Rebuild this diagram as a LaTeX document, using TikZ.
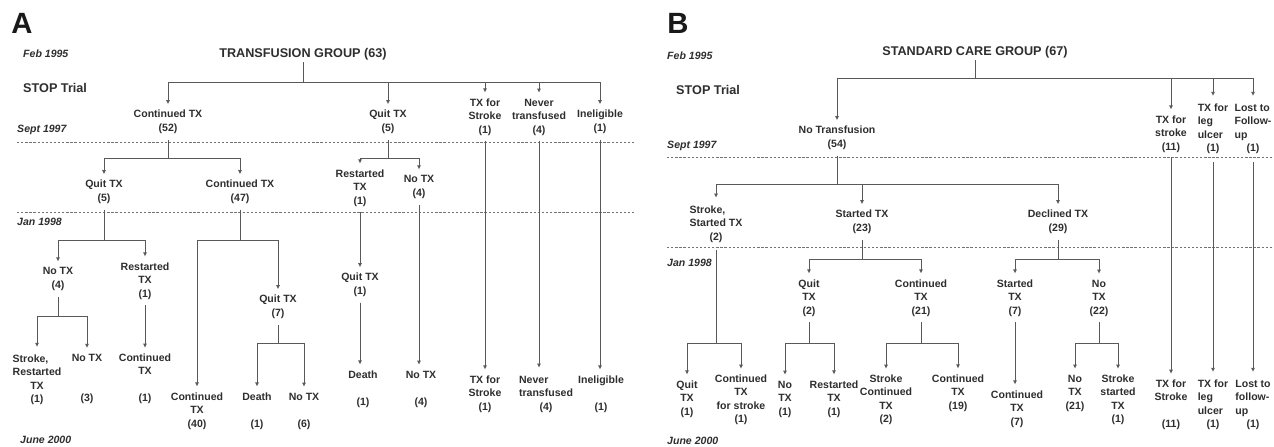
\documentclass[tikz,border=0pt]{standalone}
\usepackage{fontspec}
\setmainfont{Liberation Sans}
\usetikzlibrary{arrows.meta}
\definecolor{txt}{gray}{0.18}
\definecolor{ln}{gray}{0.35}
\definecolor{dsh}{gray}{0.45}
\newcommand{\cntrow}[1]{\multicolumn{1}{@{}c@{}}{#1}}

\begin{document}
\begin{tikzpicture}[x=0.3mm, y=-0.3mm,
  > = {Latex[length=3.5pt,width=3.5pt]},
  lab/.style = {font=\fontsize{9}{11.5}\selectfont\bfseries, text=txt, align=center, inner xsep=1pt, inner ysep=5pt},
  date/.style = {font=\fontsize{9}{11}\selectfont\bfseries\itshape, text=txt, anchor=west, inner sep=0pt},
  head/.style = {font=\fontsize{10.8}{13}\selectfont\bfseries, text=txt, inner sep=2pt},
  panel/.style = {font=\fontsize{25}{25}\selectfont\bfseries, text=black!90, inner sep=0pt},
  link/.style = {draw=ln, line width=0.7pt},
  period/.style = {draw=dsh, line width=0.5pt, dash pattern=on 2pt off 1.5pt}
  ]
	\useasboundingbox (0,0) rectangle (1274,447);
	\clip (0,0) rectangle (1274,447);

	% A: transfusion group
	\node[panel] (pa) at (22,23) {A};
	\node[date] (fa) at (23,54) {Feb 1995};
	\node[head, anchor=west, inner sep=0pt] (sa) at (23,88) {STOP Trial};
	\node[date] (ea) at (17,130) {Sept 1997};
	\node[date] (ja) at (17,222) {Jan 1998};
	\node[date] (ua) at (20,440) {June 2000};

	\draw[period] (17,142) -- (636,142);
	\draw[period] (17,212) -- (636,212);

	\node[head] (tg) at (303,54) {TRANSFUSION GROUP (63)};
	\node[lab] (c52) at (168,122) {Continued TX\\(52)};
	\node[lab] (q5)  at (388,122) {Quit TX\\(5)};
	\node[lab] (ts1) at (485,117) {TX for\\Stroke\\(1)};
	\node[lab] (nt4) at (539,117) {Never\\transfused\\(4)};
	\node[lab] (in1) at (600,122) {Ineligible\\(1)};

	\coordinate (jA0) at (303,82);
	\draw[link] (tg) -- (jA0);
	\foreach \n in {c52,q5,ts1,nt4,in1}
		\draw[link,->] (jA0) -| (\n);

	\node[lab] (q5b) at (104,192) {Quit TX\\(5)};
	\node[lab] (c47) at (240,192) {Continued TX\\(47)};
	\node[lab] (rs1) at (360,188) {Restarted\\TX\\(1)};
	\node[lab] (nx4) at (419,187) {No TX\\(4)};

	\coordinate (jA1) at (168,158);
	\coordinate (jA2) at (388,158);
	\draw[link] (c52) -- (jA1);
	\draw[link,->] (jA1) -| (q5b);
	\draw[link,->] (jA1) -| (c47);
	\draw[link] (q5) -- (jA2);
	\draw[link,->] (jA2) -| (rs1);
	\draw[link,->] (jA2) -| (nx4);

	\node[lab] (nx4b) at (58,279) {No TX\\(4)};
	\node[lab] (rs1b) at (145,281) {Restarted\\TX\\(1)};
	\node[lab] (q7)   at (278,307) {Quit TX\\(7)};
	\node[lab] (q1)   at (360,285) {Quit TX\\(1)};

	\coordinate (jA3) at (104,240);
	\coordinate (jA4) at (240,240);
	\draw[link] (q5b) -- (jA3);
	\draw[link,->] (jA3) -| (nx4b);
	\draw[link,->] (jA3) -| (rs1b);
	\draw[link] (c47) -- (jA4);
	\draw[link,->] (rs1) -- (q1);

	\node[lab] (srt1) at (37,380) {\begin{tabular}{@{}l@{}}Stroke,\\Restarted\\\cntrow{TX}\\\cntrow{(1)}\end{tabular}};
	\node[lab] (nx3)  at (87,379)  {No TX\\~\\~\\(3)};
	\node[lab] (ct1)  at (145,379) {Continued\\TX\\~\\(1)};
	\node[lab] (c40)  at (197,411) {Continued\\TX\\(40)};
	\node[lab] (de1)  at (257,411) {Death\\~\\(1)};
	\node[lab] (nx6)  at (304,411) {No TX\\~\\(6)};
	\node[lab] (de1b) at (363,389) {Death\\~\\(1)};
	\node[lab] (nx4c) at (421,389) {No TX\\~\\(4)};
	\node[lab] (ts1b) at (485,394) {TX for\\Stroke\\(1)};
	\node[lab] (nt4b) at (546,394) {\begin{tabular}{@{}l@{}}Never\\transfused\\\cntrow{(4)}\end{tabular}};
	\node[lab] (in1b) at (601,394) {Ineligible\\~\\(1)};

	\coordinate (jA5) at (58,316);
	\coordinate (jA6) at (278,343);
	\draw[link,->] (jA4) -| (c40);
	\draw[link,->] (jA4) -| (q7);
	\draw[link] (nx4b) -- (jA5);
	\draw[link,->] (jA5) -| (srt1);
	\draw[link,->] (jA5) -| (nx3);
	\draw[link,->] (rs1b) -- (rs1b |- ct1.north);
	\draw[link] (q7) -- (jA6);
	\draw[link,->] (jA6) -| (de1);
	\draw[link,->] (jA6) -| (nx6);
	\draw[link,->] (q1) -- (q1 |- de1b.north);
	\draw[link,->] (nx4) -- (nx4 |- nx4c.north);
	\draw[link,->] (ts1) -- (ts1b);
	\draw[link,->] (nt4) -- (nt4 |- nt4b.north);
	\draw[link,->] (in1) -- (in1 |- in1b.north);

	% B: standard care group
	\node[panel] (pb) at (678,23) {B};
	\node[date] (fb) at (667,56) {Feb 1995};
	\node[head, anchor=west, inner sep=0pt] (sb) at (676,90) {STOP Trial};
	\node[date] (eb) at (667,146) {Sept 1997};
	\node[date] (jb) at (667,263) {Jan 1998};
	\node[date] (ub) at (667,441) {June 2000};

	\draw[period] (667,157) -- (1274,157);
	\draw[period] (667,247) -- (1274,247);

	\node[head] (sg) at (975,52) {STANDARD CARE GROUP (67)};
	\node[lab] (nt54) at (837,138) {No Transfusion\\(54)};
	\node[lab] (ts11) at (1171,134) {TX for\\stroke\\(11)};
	\node[lab] (lu1)  at (1213,129) {\begin{tabular}{@{}l@{}}TX for\\leg\\ulcer\\\cntrow{(1)}\end{tabular}};
	\node[lab] (lf1)  at (1253,129) {\begin{tabular}{@{}l@{}}Lost to\\Follow-\\up\\\cntrow{(1)}\end{tabular}};

	\coordinate (jB0) at (975,78);
	\draw[link] (sg) -- (jB0);
	\foreach \n in {nt54,ts11,lu1,lf1}
		\draw[link,->] (jB0) -| (\n);

	\node[lab] (sst2) at (716,224) {\begin{tabular}{@{}l@{}}Stroke,\\Started TX\\\cntrow{(2)}\end{tabular}};
	\node[lab] (st23) at (862,222) {Started TX\\(23)};
	\node[lab] (dc29) at (1058,222) {Declined TX\\(29)};

	\coordinate (jB1) at (837,184);
	\draw[link] (nt54) -- (jB1);
	\foreach \n in {sst2,st23,dc29}
		\draw[link,->] (jB1) -| (\n);

	\node[lab] (q2)   at (809,298)  {Quit\\TX\\(2)};
	\node[lab] (ct21) at (921,298)  {Continued\\TX\\(21)};
	\node[lab] (st7)  at (1015,298) {Started\\TX\\(7)};
	\node[lab] (nx22) at (1099,298) {No\\TX\\(22)};

	\coordinate (jB3) at (862,259);
	\coordinate (jB4) at (1058,259);
	\draw[link] (st23) -- (jB3);
	\draw[link,->] (jB3) -| (q2);
	\draw[link,->] (jB3) -| (ct21);
	\draw[link] (dc29) -- (jB4);
	\draw[link,->] (jB4) -| (st7);
	\draw[link,->] (jB4) -| (nx22);

	\node[lab] (q1b)   at (687,399)  {Quit\\TX\\(1)};
	\node[lab] (ctfs1) at (741,400)  {Continued\\TX\\for stroke\\(1)};
	\node[lab] (nx1)   at (785,399)  {No\\TX\\(1)};
	\node[lab] (rs1c)  at (834,399)  {Restarted\\TX\\(1)};
	\node[lab] (sct2)  at (886,400)  {Stroke\\Continued\\TX\\(2)};
	\node[lab] (ct19)  at (958,393)  {Continued\\TX\\(19)};
	\node[lab] (ct7)   at (1017,409) {Continued\\TX\\(7)};
	\node[lab] (nx21)  at (1075,393) {No\\TX\\(21)};
	\node[lab] (sst1)  at (1118,400) {Stroke\\started\\TX\\(1)};
	\node[lab] (ts11b) at (1171,405) {TX for\\Stroke\\~\\(11)};
	\node[lab] (lu1b)  at (1213,405) {\begin{tabular}{@{}l@{}}TX for\\leg\\ulcer\\\cntrow{(1)}\end{tabular}};
	\node[lab] (lf1b)  at (1253,405) {\begin{tabular}{@{}l@{}}Lost to\\follow-\\up\\\cntrow{(1)}\end{tabular}};

	\coordinate (jB2) at (716,343);
	\coordinate (jB5) at (809,343);
	\coordinate (jB6) at (921,343);
	\coordinate (jB7) at (1099,343);
	\draw[link] (sst2) -- (jB2);
	\draw[link,->] (jB2) -| (q1b);
	\draw[link,->] (jB2) -| (ctfs1);
	\draw[link] (q2) -- (jB5);
	\draw[link,->] (jB5) -| (nx1);
	\draw[link,->] (jB5) -| (rs1c);
	\draw[link] (ct21) -- (jB6);
	\draw[link,->] (jB6) -| (sct2);
	\draw[link,->] (jB6) -| (ct19);
	\draw[link,->] (st7) -- (st7 |- ct7.north);
	\draw[link] (nx22) -- (jB7);
	\draw[link,->] (jB7) -| (nx21);
	\draw[link,->] (jB7) -| (sst1);
	\draw[link,->] (ts11) -- (ts11 |- ts11b.north);
	\draw[link,->] (lu1) -- (lu1 |- lu1b.north);
	\draw[link,->] (lf1) -- (lf1 |- lf1b.north);

\end{tikzpicture}
\end{document}
